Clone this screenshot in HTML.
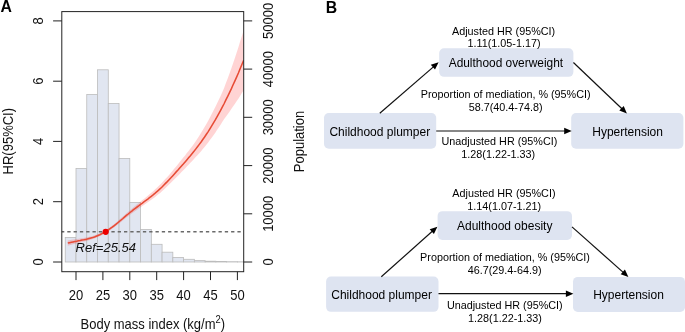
<!DOCTYPE html>
<html><head><meta charset="utf-8"><title>Figure</title>
<style>
html,body{margin:0;padding:0;background:#fff;}
body{width:685px;height:332px;overflow:hidden;font-family:"Liberation Sans",sans-serif;}
svg{display:block;will-change:transform;font-family:"Liberation Sans",sans-serif;}
</style></head>
<body>
<svg width="685" height="332" viewBox="0 0 685 332">
<rect width="685" height="332" fill="#fff"/>
<clipPath id="cp"><rect x="61.8" y="11.6" width="181.89999999999998" height="260.09999999999997"/></clipPath><g clip-path="url(#cp)" fill="#E1E6F1" stroke="#BCBCBC" stroke-width="0.8"><rect x="65.24" y="237.4" width="10.76" height="24.6"/><rect x="76.00" y="168.5" width="10.76" height="93.5"/><rect x="86.76" y="94.5" width="10.76" height="167.5"/><rect x="97.52" y="69.8" width="10.76" height="192.2"/><rect x="108.28" y="103.5" width="10.76" height="158.5"/><rect x="119.04" y="158.4" width="10.76" height="103.6"/><rect x="129.80" y="202.4" width="10.76" height="59.6"/><rect x="140.56" y="229.4" width="10.76" height="32.6"/><rect x="151.32" y="244.3" width="10.76" height="17.7"/><rect x="162.08" y="252.2" width="10.76" height="9.8"/><rect x="172.84" y="257.4" width="10.76" height="4.6"/><rect x="183.60" y="259.3" width="10.76" height="2.7"/><rect x="194.36" y="260.6" width="10.76" height="1.4"/><rect x="205.12" y="261.2" width="10.76" height="0.8"/><rect x="215.88" y="261.5" width="10.76" height="0.5"/><rect x="226.64" y="261.7" width="10.76" height="0.3"/><rect x="237.40" y="261.8" width="10.76" height="0.2"/></g>
<path d="M67.8,240.5 L69.6,240.2 L71.4,239.8 L73.1,239.5 L74.9,239.3 L76.7,239.0 L78.5,238.7 L80.2,238.5 L82.0,238.2 L83.8,237.9 L85.6,237.6 L87.3,237.2 L89.1,236.8 L90.9,236.4 L92.7,235.9 L94.5,235.3 L96.2,234.7 L98.0,234.0 L99.8,233.2 L101.6,232.4 L103.3,231.5 L105.1,230.5 L106.9,229.4 L108.7,228.2 L110.4,226.9 L112.2,225.6 L114.0,224.2 L115.8,222.7 L117.5,221.2 L119.3,219.6 L121.1,218.0 L122.9,216.5 L124.7,214.9 L126.4,213.3 L128.2,211.7 L130.0,210.2 L131.8,208.7 L133.5,207.2 L135.3,205.7 L137.1,204.3 L138.9,202.9 L140.6,201.5 L142.4,200.1 L144.2,198.7 L146.0,197.2 L147.8,195.8 L149.5,194.3 L151.3,192.8 L153.1,191.2 L154.9,189.6 L156.6,188.0 L158.4,186.2 L160.2,184.5 L162.0,182.7 L163.7,180.8 L165.5,178.8 L167.3,176.9 L169.1,174.9 L170.9,172.8 L172.6,170.7 L174.4,168.5 L176.2,166.4 L178.0,164.2 L179.7,162.0 L181.5,159.8 L183.3,157.6 L185.1,155.4 L186.8,153.1 L188.6,150.9 L190.4,148.6 L192.2,146.2 L194.0,143.8 L195.7,141.2 L197.5,138.4 L199.3,135.7 L201.1,132.8 L202.8,129.9 L204.6,127.0 L206.4,123.9 L208.2,120.8 L209.9,117.4 L211.7,114.1 L213.5,110.6 L215.3,107.0 L217.0,103.4 L218.8,99.7 L220.6,95.9 L222.4,92.0 L224.2,87.8 L225.9,83.1 L227.7,78.4 L229.5,73.6 L231.3,68.6 L233.0,63.6 L234.8,58.2 L236.6,52.8 L238.4,47.2 L240.1,41.6 L241.9,35.9 L243.7,30.2 L243.7,90.2 L241.9,93.1 L240.1,95.9 L238.4,98.7 L236.6,101.3 L234.8,103.9 L233.0,106.4 L231.3,109.1 L229.5,111.7 L227.7,114.3 L225.9,116.7 L224.2,119.1 L222.4,121.8 L220.6,124.7 L218.8,127.4 L217.0,130.1 L215.3,132.7 L213.5,135.3 L211.7,137.7 L209.9,140.1 L208.2,142.4 L206.4,144.7 L204.6,147.0 L202.8,149.1 L201.1,151.2 L199.3,153.2 L197.5,155.2 L195.7,157.0 L194.0,158.9 L192.2,160.9 L190.4,162.8 L188.6,164.7 L186.8,166.6 L185.1,168.5 L183.3,170.3 L181.5,172.1 L179.7,173.9 L178.0,175.7 L176.2,177.5 L174.4,179.3 L172.6,181.1 L170.9,182.8 L169.1,184.6 L167.3,186.3 L165.5,188.0 L163.7,189.7 L162.0,191.3 L160.2,192.9 L158.4,194.3 L156.6,195.8 L154.9,197.2 L153.1,198.5 L151.3,199.8 L149.5,201.1 L147.8,202.3 L146.0,203.6 L144.2,204.8 L142.4,206.0 L140.6,207.3 L138.9,208.5 L137.1,209.7 L135.3,210.9 L133.5,212.2 L131.8,213.5 L130.0,214.8 L128.2,216.2 L126.4,217.6 L124.7,219.0 L122.9,220.5 L121.1,221.9 L119.3,223.3 L117.5,224.8 L115.8,226.1 L114.0,227.4 L112.2,228.7 L110.4,229.9 L108.7,231.1 L106.9,232.1 L105.1,233.2 L103.3,234.2 L101.6,235.2 L99.8,236.1 L98.0,237.0 L96.2,237.7 L94.5,238.5 L92.7,239.1 L90.9,239.7 L89.1,240.2 L87.3,240.7 L85.6,241.2 L83.8,241.6 L82.0,242.1 L80.2,242.5 L78.5,242.9 L76.7,243.4 L74.9,243.8 L73.1,244.2 L71.4,244.7 L69.6,245.2 L67.8,245.7Z" fill="#FF0000" fill-opacity="0.17" stroke="none" clip-path="url(#cp)"/>
<path d="M67.8,243.1 L69.6,242.7 L71.4,242.3 L73.1,241.9 L74.9,241.5 L76.7,241.2 L78.5,240.8 L80.2,240.5 L82.0,240.1 L83.8,239.8 L85.6,239.4 L87.3,239.0 L89.1,238.5 L90.9,238.0 L92.7,237.5 L94.5,236.9 L96.2,236.2 L98.0,235.5 L99.8,234.7 L101.6,233.8 L103.3,232.9 L105.1,231.9 L106.9,230.8 L108.7,229.6 L110.4,228.4 L112.2,227.2 L114.0,225.8 L115.8,224.4 L117.5,223.0 L119.3,221.5 L121.1,220.0 L122.9,218.5 L124.7,216.9 L126.4,215.4 L128.2,214.0 L130.0,212.5 L131.8,211.1 L133.5,209.7 L135.3,208.3 L137.1,207.0 L138.9,205.7 L140.6,204.4 L142.4,203.1 L144.2,201.7 L146.0,200.4 L147.8,199.1 L149.5,197.7 L151.3,196.3 L153.1,194.9 L154.9,193.4 L156.6,191.9 L158.4,190.3 L160.2,188.7 L162.0,187.0 L163.7,185.2 L165.5,183.4 L167.3,181.6 L169.1,179.7 L170.9,177.8 L172.6,175.9 L174.4,173.9 L176.2,171.9 L178.0,170.0 L179.7,168.0 L181.5,166.0 L183.3,164.0 L185.1,161.9 L186.8,159.9 L188.6,157.8 L190.4,155.7 L192.2,153.5 L194.0,151.3 L195.7,149.1 L197.5,146.8 L199.3,144.4 L201.1,142.0 L202.8,139.5 L204.6,137.0 L206.4,134.3 L208.2,131.6 L209.9,128.8 L211.7,125.9 L213.5,122.9 L215.3,119.9 L217.0,116.8 L218.8,113.6 L220.6,110.3 L222.4,106.9 L224.2,103.5 L225.9,99.9 L227.7,96.3 L229.5,92.6 L231.3,88.9 L233.0,85.0 L234.8,81.1 L236.6,77.1 L238.4,73.0 L240.1,68.8 L241.9,64.5 L243.7,60.2" fill="none" stroke="#E74C36" stroke-width="1.55" clip-path="url(#cp)"/>
<line x1="61.8" x2="243.7" y1="231.8" y2="231.8" stroke="#6a6a6a" stroke-width="1.4" stroke-dasharray="3.3,3.0" stroke-dashoffset="0.8"/>
<circle cx="105.7" cy="231.8" r="3.1" fill="#EC0000"/>
<rect x="61.8" y="11.6" width="181.89999999999998" height="260.09999999999997" fill="none" stroke="#222" stroke-width="1"/>
<g stroke="#222" stroke-width="1"><line x1="53.099999999999994" x2="61.8" y1="262.0" y2="262.0"/><line x1="53.099999999999994" x2="61.8" y1="201.7" y2="201.7"/><line x1="53.099999999999994" x2="61.8" y1="141.4" y2="141.4"/><line x1="53.099999999999994" x2="61.8" y1="81.2" y2="81.2"/><line x1="53.099999999999994" x2="61.8" y1="20.9" y2="20.9"/><line x1="243.7" x2="252.2" y1="262.0" y2="262.0"/><line x1="243.7" x2="252.2" y1="213.8" y2="213.8"/><line x1="243.7" x2="252.2" y1="165.6" y2="165.6"/><line x1="243.7" x2="252.2" y1="117.3" y2="117.3"/><line x1="243.7" x2="252.2" y1="69.1" y2="69.1"/><line x1="243.7" x2="252.2" y1="20.9" y2="20.9"/><line x1="76.0" x2="76.0" y1="271.7" y2="280.09999999999997"/><line x1="102.9" x2="102.9" y1="271.7" y2="280.09999999999997"/><line x1="129.8" x2="129.8" y1="271.7" y2="280.09999999999997"/><line x1="156.7" x2="156.7" y1="271.7" y2="280.09999999999997"/><line x1="183.6" x2="183.6" y1="271.7" y2="280.09999999999997"/><line x1="210.5" x2="210.5" y1="271.7" y2="280.09999999999997"/><line x1="237.4" x2="237.4" y1="271.7" y2="280.09999999999997"/></g>
<g font-size="13.8" fill="#111"><text transform="translate(76.0,300.2) scale(0.9420,1)" text-anchor="middle">20</text><text transform="translate(102.9,300.2) scale(0.9420,1)" text-anchor="middle">25</text><text transform="translate(129.8,300.2) scale(0.9420,1)" text-anchor="middle">30</text><text transform="translate(156.7,300.2) scale(0.9420,1)" text-anchor="middle">35</text><text transform="translate(183.6,300.2) scale(0.9420,1)" text-anchor="middle">40</text><text transform="translate(210.5,300.2) scale(0.9420,1)" text-anchor="middle">45</text><text transform="translate(237.4,300.2) scale(0.9420,1)" text-anchor="middle">50</text><text transform="translate(42.9,262.0) rotate(-90) scale(0.9420,1)" text-anchor="middle">0</text><text transform="translate(42.9,201.7) rotate(-90) scale(0.9420,1)" text-anchor="middle">2</text><text transform="translate(42.9,141.4) rotate(-90) scale(0.9420,1)" text-anchor="middle">4</text><text transform="translate(42.9,81.2) rotate(-90) scale(0.9420,1)" text-anchor="middle">6</text><text transform="translate(42.9,20.9) rotate(-90) scale(0.9420,1)" text-anchor="middle">8</text><text transform="translate(273.0,262.0) rotate(-90) scale(0.9420,1)" text-anchor="middle">0</text><text transform="translate(273.0,213.8) rotate(-90) scale(0.9420,1)" text-anchor="middle">10000</text><text transform="translate(273.0,165.6) rotate(-90) scale(0.9420,1)" text-anchor="middle">20000</text><text transform="translate(273.0,117.3) rotate(-90) scale(0.9420,1)" text-anchor="middle">30000</text><text transform="translate(273.0,69.1) rotate(-90) scale(0.9420,1)" text-anchor="middle">40000</text><text transform="translate(273.0,20.9) rotate(-90) scale(0.9420,1)" text-anchor="middle">50000</text><text transform="translate(12.6,141.2) rotate(-90) scale(0.9420,1)" text-anchor="middle">HR(95%CI)</text><text transform="translate(304.1,141.5) rotate(-90) scale(0.9420,1)" text-anchor="middle">Population</text><text transform="translate(152.8,329.1) scale(0.9420,1)" text-anchor="middle">Body mass index (kg/m<tspan font-size="10" dy="-6">2</tspan><tspan dy="6">)</tspan></text></g>
<text x="75.6" y="252.2" font-size="13" font-style="italic" fill="#111">Ref=25.54</text>
<text transform="translate(0.4,11.7) scale(1,1)" font-size="15.8" font-weight="bold" fill="#000">A</text>
<text transform="translate(325.8,12.9) scale(1,1)" font-size="15.8" font-weight="bold" fill="#000">B</text>
<rect x="439.2" y="48.3" width="134.2" height="28.5" rx="4.8" fill="#DEE4F1"/>
<rect x="324" y="113.0" width="112.2" height="35.7" rx="4.8" fill="#DEE4F1"/>
<rect x="571.2" y="113.0" width="112.2" height="35.7" rx="4.8" fill="#DEE4F1"/>
<line x1="379.8" y1="113.3" x2="433.7" y2="66.6" stroke="#111" stroke-width="1.2"/><polygon points="438.6,62.3 435.0,69.6 430.8,64.8" fill="#000"/>
<line x1="573.4" y1="62.5" x2="622.2" y2="109.0" stroke="#111" stroke-width="1.2"/><polygon points="626.9,113.5 619.3,110.6 623.7,106.0" fill="#000"/>
<line x1="436.2" y1="131.0" x2="565.2" y2="131.0" stroke="#111" stroke-width="1.2"/><polygon points="571.7,131.0 564.2,134.2 564.2,127.8" fill="#000"/>
<rect x="437.6" y="211.2" width="134.4" height="28.7" rx="4.8" fill="#DEE4F1"/>
<rect x="326.1" y="276.6" width="112.4" height="35.2" rx="4.8" fill="#DEE4F1"/>
<rect x="573.0" y="276.9" width="112.0" height="35.1" rx="4.8" fill="#DEE4F1"/>
<line x1="381.3" y1="276.8" x2="432.6" y2="231.0" stroke="#111" stroke-width="1.2"/><polygon points="437.4,226.7 433.9,234.1 429.7,229.3" fill="#000"/>
<line x1="572.0" y1="226.9" x2="623.5" y2="272.6" stroke="#111" stroke-width="1.2"/><polygon points="628.4,276.9 620.7,274.3 624.9,269.5" fill="#000"/>
<line x1="438.5" y1="293.7" x2="566.9" y2="293.7" stroke="#111" stroke-width="1.2"/><polygon points="573.4,293.7 565.9,296.9 565.9,290.5" fill="#000"/>
<g font-size="12" fill="#000"><text x="505.9" y="67.1" text-anchor="middle" font-size="11.9">Adulthood overweight</text><text x="379.8" y="135.6" text-anchor="middle">Childhood plumper</text><text x="627.6" y="135.7" text-anchor="middle">Hypertension</text><text x="504.7" y="229.8" text-anchor="middle">Adulthood obesity</text><text x="381.6" y="298.9" text-anchor="middle">Childhood plumper</text><text x="628.5" y="299.0" text-anchor="middle">Hypertension</text></g>
<g font-size="10.8" fill="#000"><text x="503.6" y="34.7" text-anchor="middle">Adjusted HR (95%CI)</text><text x="504.0" y="47.4" text-anchor="middle">1.11(1.05-1.17)</text><text x="505.7" y="98.2" text-anchor="middle">Proportion of mediation, % (95%CI)</text><text x="505.6" y="111.1" text-anchor="middle">58.7(40.4-74.8)</text><text x="499.4" y="145.1" text-anchor="middle">Unadjusted HR (95%CI)</text><text x="498.2" y="157.6" text-anchor="middle">1.28(1.22-1.33)</text><text x="503.9" y="196.9" text-anchor="middle">Adjusted HR (95%CI)</text><text x="504.2" y="209.7" text-anchor="middle">1.14(1.07-1.21)</text><text x="505.0" y="261.1" text-anchor="middle">Proportion of mediation, % (95%CI)</text><text x="504.6" y="274.0" text-anchor="middle">46.7(29.4-64.9)</text><text x="504.8" y="309.1" text-anchor="middle">Unadjusted HR (95%CI)</text><text x="505.0" y="321.8" text-anchor="middle">1.28(1.22-1.33)</text></g>
</svg>
</body></html>
